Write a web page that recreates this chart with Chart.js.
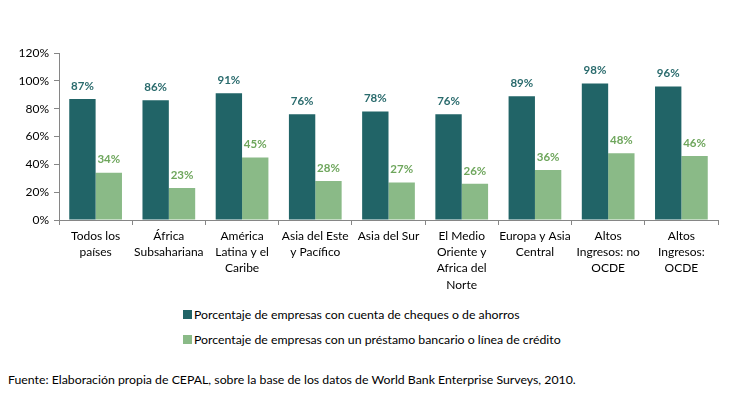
<!DOCTYPE html>
<html>
<head>
<meta charset="utf-8">
<script src="https://cdn.jsdelivr.net/npm/chart.js@4/dist/chart.umd.min.js"></script>
<style>
    body { margin: 0; background: #fff; font-family: Lato, sans-serif; }
    #wrap { position: relative; width: 737px; height: 396px; }
    #chartBox { position: absolute; left: 0; top: 0; width: 737px; height: 300px; }
    #legend { position: absolute; left: 183px; top: 302px; font-size: 12.3px; color: #000; }
    .item { display: flex; align-items: center; height: 25px; }
    .box { width: 9px; height: 9px; margin-right: 2px; }
    #source { position: absolute; left: 8px; top: 372px; font-size: 12.3px; color: #000; }
</style>
</head>
<body>
<div id="wrap">
    <div id="chartBox"><canvas id="finChart" width="737" height="300"></canvas></div>
    <div id="legend"></div>
    <div id="source">Fuente: Elaboración propia de CEPAL, sobre la base de los datos de World Bank Enterprise Surveys, 2010.</div>
</div>
<script>
// Categories (multi-line labels as in the original)
const regions = [
    ['Todos los', 'países'],
    ['África', 'Subsahariana'],
    ['América', 'Latina y el', 'Caribe'],
    ['Asia del Este', 'y Pacífico'],
    ['Asia del Sur'],
    ['El Medio', 'Oriente y', 'Africa del', 'Norte'],
    ['Europa y Asia', 'Central'],
    ['Altos', 'Ingresos: no', 'OCDE'],
    ['Altos', 'Ingresos:', 'OCDE']
];

// Series values (percent)
const withAccount = [87, 86, 91, 76, 78, 76, 89, 98, 96];
const withCredit = [34, 23, 45, 28, 27, 26, 36, 48, 46];

const seriesNames = [
    'Porcentaje de empresas con cuenta de cheques o de ahorros',
    'Porcentaje de empresas con un préstamo bancario o línea de crédito'
];

const yTicks = [0, 20, 40, 60, 80, 100, 120];

const darkColor = '#216467';
const lightColor = '#8aba87';
const darkLabel = '#2a6b6d';
const lightLabel = '#6ea65c';

// draw the value labels above each bar
const valueLabels = {
    id: 'valueLabels',
    afterDatasetsDraw(chart) {
        const ctx = chart.ctx;
        ctx.save();
        ctx.font = 'bold 11.5px Lato, sans-serif';
        ctx.textAlign = 'center';
        ctx.textBaseline = 'middle';
        chart.data.datasets.forEach((ds, i) => {
            const meta = chart.getDatasetMeta(i);
            ctx.fillStyle = i === 0 ? darkLabel : lightLabel;
            meta.data.forEach((bar, j) => {
                ctx.fillText(ds.data[j] + '%', bar.x, bar.y - 13);
            });
        });
        ctx.restore();
    }
};

const ctx = document.getElementById('finChart').getContext('2d');
new Chart(ctx, {
    type: 'bar',
    data: {
        labels: regions,
        datasets: [{
            label: seriesNames[0],
            data: withAccount,
            backgroundColor: darkColor,
            categoryPercentage: 0.72,
            barPercentage: 1
        }, {
            label: seriesNames[1],
            data: withCredit,
            backgroundColor: lightColor,
            categoryPercentage: 0.72,
            barPercentage: 1
        }]
    },
    options: {
        responsive: false,
        animation: false,
        layout: { padding: { left: 0, top: 53, right: 19, bottom: 0 } },
        plugins: {
            legend: { display: false },
            tooltip: { enabled: false }
        },
        scales: {
            x: {
                grid: { drawOnChartArea: false, color: '#868686', tickLength: 5 },
                border: { color: '#868686' },
                ticks: {
                    color: '#000',
                    font: { family: 'Lato, sans-serif', size: 12, lineHeight: 1.35 },
                    padding: 3,
                    maxRotation: 0,
                    autoSkip: false
                },
                afterFit: (scale) => { scale.height = 80; }
            },
            y: {
                min: 0,
                max: 120,
                afterBuildTicks: (scale) => { scale.ticks = yTicks.map(v => ({ value: v })); },
                grid: { drawOnChartArea: false, color: '#868686', tickLength: 5 },
                border: { color: '#868686' },
                ticks: {
                    color: '#000',
                    font: { family: 'Lato, sans-serif', size: 12 },
                    padding: 5,
                    callback: (v) => v + '%'
                },
                afterFit: (scale) => { scale.width = 59; }
            }
        }
    },
    plugins: [valueLabels]
});

// legend in html, one item per row
const legend = document.getElementById('legend');
[darkColor, lightColor].forEach((c, i) => {
    const row = document.createElement('div');
    row.className = 'item';
    row.innerHTML = '<span class="box" style="background:' + c + '"></span><span>' + seriesNames[i] + '</span>';
    legend.appendChild(row);
});
</script>
</body>
</html>
